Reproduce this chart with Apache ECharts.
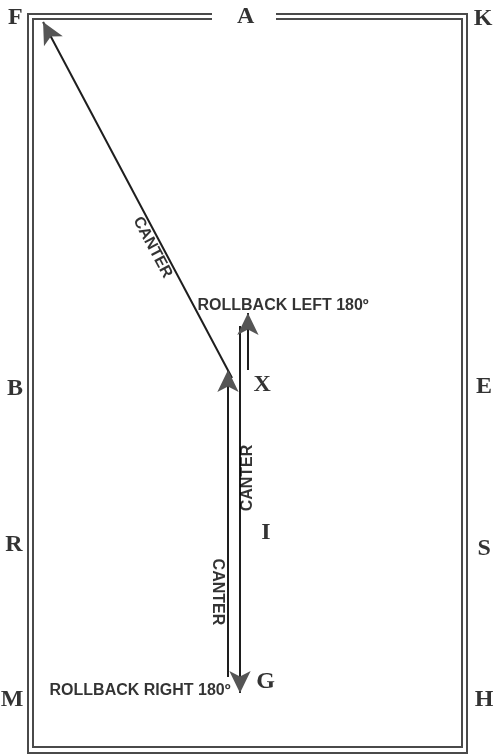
<html>
<head>
<meta charset="UTF-8">
<title>Arena pattern</title>
<script src="https://cdn.jsdelivr.net/npm/echarts@6/dist/echarts.min.js"></script>
<style>html,body,#container{width:100%;height:100%;margin:0;padding:0;background:#fff;}</style>
</head>
<body>
<div id="container"></div>
<script>
// arena markers (arena units: x 0..20, y 0..40, A end at top)
var letterNames = ['F', 'A', 'K', 'B', 'X', 'E', 'R', 'I', 'S', 'M', 'G', 'H'];
var letterX = [-0.82, 9.91, 20.98, -0.84, 10.68, 21.03, -0.89, 10.86, 21.03, -0.98, 10.84, 21.03];
var letterY = [40.05, 40.11, 40.03, 19.70, 19.89, 19.78, 11.10, 11.76, 10.88, 2.58, 3.60, 2.58];

// ridden path segments, from -> to (arrow tip at the "to" end)
var pathFrom = [[9.28, 20.27], [9.09, 3.85], [9.65, 23.13], [10.02, 20.71]];
var pathTo = [[0.47, 39.84], [9.09, 20.71], [9.65, 2.97], [10.02, 23.85]];

// text notes along the pattern
var noteTexts = ['CANTER', 'CANTER', 'CANTER', 'ROLLBACK LEFT 180º', 'ROLLBACK RIGHT 180º'];
var noteX = [5.57, 10.02, 8.62, 11.66, 4.99];
var noteY = [27.45, 14.78, 8.52, 24.26, 3.08];
var noteAngle = [-62, 90, -90, 0, 0];

var myChart = echarts.init(document.getElementById('container'));

var letterData = [];
for (var i = 0; i < letterNames.length; i++) {
	letterData.push({name: letterNames[i], value: [letterX[i], letterY[i]]});
}
var pathData = [];
for (var j = 0; j < pathFrom.length; j++) {
	pathData.push({coords: [pathFrom[j], pathTo[j]]});
}
var noteData = [];
for (var k = 0; k < noteTexts.length; k++) {
	noteData.push({name: noteTexts[k], value: [noteX[k], noteY[k]], label: {rotate: noteAngle[k]}});
}

myChart.setOption({
	animation: false,
	grid: [
		{left: 33, top: 19, width: 429, height: 728, show: true, borderColor: '#4a4a4a', borderWidth: 2, backgroundColor: 'transparent'},
		{left: 28, top: 14, width: 439, height: 739, show: true, borderColor: '#4a4a4a', borderWidth: 2, backgroundColor: 'transparent'}
	],
	xAxis: [
		{gridIndex: 0, type: 'value', min: 0, max: 20, show: false},
		{gridIndex: 1, type: 'value', min: 0, max: 1, show: false}
	],
	yAxis: [
		{gridIndex: 0, type: 'value', min: 0, max: 40, show: false},
		{gridIndex: 1, type: 'value', min: 0, max: 1, show: false}
	],
	// gap in the wall at A
	graphic: [{
		type: 'rect', z: 1, silent: true,
		shape: {x: 212, y: 11, width: 64, height: 11},
		style: {fill: '#fff'}
	}],
	series: [
		{
			type: 'lines', coordinateSystem: 'cartesian2d', xAxisIndex: 0, yAxisIndex: 0,
			z: 2, silent: true,
			symbol: ['none', 'none'],
			lineStyle: {color: '#1e1e1e', width: 2, opacity: 1, curveness: 0},
			data: pathData
		},
		{
			type: 'lines', coordinateSystem: 'cartesian2d', xAxisIndex: 0, yAxisIndex: 0,
			z: 3, silent: true,
			symbol: ['none', 'arrow'],
			symbolSize: [[16, 22], [16, 22]],
			lineStyle: {color: '#555', width: 0, opacity: 1, curveness: 0},
			data: pathData
		},
		{
			type: 'scatter', xAxisIndex: 0, yAxisIndex: 0, clip: false, silent: true, z: 4,
			symbolSize: 1, itemStyle: {color: 'rgba(0,0,0,0)'},
			label: {
				show: true, position: 'inside', formatter: '{b}',
				fontFamily: 'Liberation Serif', fontWeight: 'bold', fontSize: 24, color: '#000'
			},
			data: letterData
		},
		{
			type: 'scatter', xAxisIndex: 0, yAxisIndex: 0, clip: false, silent: true, z: 4,
			symbolSize: 1, itemStyle: {color: 'rgba(0,0,0,0)'},
			label: {
				show: true, position: 'inside', formatter: '{b}',
				fontFamily: 'Liberation Sans', fontWeight: 'bold', fontSize: 16, color: '#000'
			},
			data: noteData
		}
	]
});

window.onresize = function () {
	myChart.resize();
};
</script>
</body>
</html>
